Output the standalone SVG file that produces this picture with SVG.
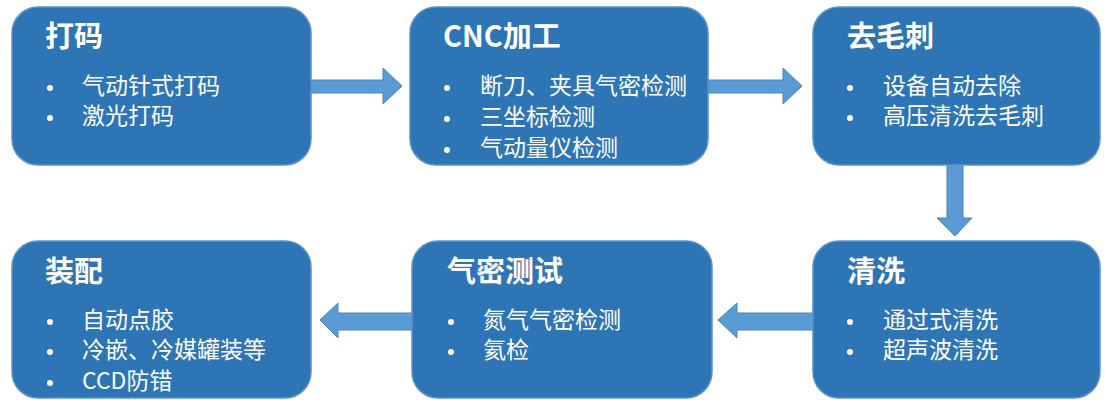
<svg xmlns="http://www.w3.org/2000/svg" width="1105" height="400" viewBox="0 0 1105 400">
<style>
.box{fill:#2E75B6;stroke:#5B93C9;stroke-width:1.5}
.arr{fill:#5B9BD5;stroke:#4A84BE;stroke-width:1}
.t{font-family:"Noto Sans CJK SC","Noto Sans",sans-serif;font-weight:bold;font-size:29px;fill:#fff}
.i{font-family:"Noto Sans CJK SC","Noto Sans",sans-serif;font-size:23px;fill:#fff}
.b{fill:#fff}
</style>
<rect width="1105" height="400" fill="#fff"/>
<g id="connectors">
<path class="arr" d="M311,80 H383 V68 L402,86 L383,104 V93 H311 Z"/>
<path class="arr" d="M708,80 H783 V68 L802,86 L783,104 V93 H708 Z"/>
<path class="arr" d="M947,165 V218 H937 L955,236 L972,218 H963 V165 Z"/>
<path class="arr" d="M813,313 H737 V303 L718,320 L737,338 V330 H813 Z"/>
<path class="arr" d="M412,313 H338 V303 L320,320 L338,338 V330 H412 Z"/>
</g>
<g id="node-daima">
<rect class="box" x="12" y="7" width="299" height="158" rx="26"/>
<text class="t" x="45" y="47">打码</text>
<circle class="b" cx="50" cy="88" r="3"/><text class="i" x="82" y="94">气动针式打码</text>
<circle class="b" cx="50" cy="118" r="3"/><text class="i" x="82" y="124">激光打码</text>
</g>
<g id="node-cnc">
<rect class="box" x="410" y="7" width="298" height="158" rx="26"/>
<text class="t" x="443" y="47">CNC加工</text>
<circle class="b" cx="447" cy="88" r="3"/><text class="i" x="480" y="94">断刀、夹具气密检测</text>
<circle class="b" cx="447" cy="119" r="3"/><text class="i" x="480" y="125">三坐标检测</text>
<circle class="b" cx="447" cy="150" r="3"/><text class="i" x="480" y="156">气动量仪检测</text>
</g>
<g id="node-qumaoci">
<rect class="box" x="813" y="7" width="287" height="158" rx="26"/>
<text class="t" x="847" y="47">去毛刺</text>
<circle class="b" cx="850" cy="88" r="3"/><text class="i" x="883" y="94">设备自动去除</text>
<circle class="b" cx="850" cy="118" r="3"/><text class="i" x="883" y="124">高压清洗去毛刺</text>
</g>
<g id="node-qingxi">
<rect class="box" x="813" y="241" width="287" height="157" rx="26"/>
<text class="t" x="847" y="282">清洗</text>
<circle class="b" cx="850" cy="322" r="3"/><text class="i" x="883" y="328">通过式清洗</text>
<circle class="b" cx="850" cy="352" r="3"/><text class="i" x="883" y="358">超声波清洗</text>
</g>
<g id="node-qimi">
<rect class="box" x="412" y="241" width="300" height="157" rx="26"/>
<text class="t" x="447" y="282">气密测试</text>
<circle class="b" cx="451" cy="322" r="3"/><text class="i" x="483" y="328">氮气气密检测</text>
<circle class="b" cx="451" cy="352" r="3"/><text class="i" x="483" y="358">氦检</text>
</g>
<g id="node-zhuangpei">
<rect class="box" x="12" y="241" width="299" height="157" rx="26"/>
<text class="t" x="45" y="282">装配</text>
<circle class="b" cx="50" cy="322" r="3"/><text class="i" x="82" y="328">自动点胶</text>
<circle class="b" cx="50" cy="352" r="3"/><text class="i" x="82" y="358">冷嵌、冷媒罐装等</text>
<circle class="b" cx="50" cy="383" r="3"/><text class="i" x="82" y="389">CCD防错</text>
</g>
</svg>
